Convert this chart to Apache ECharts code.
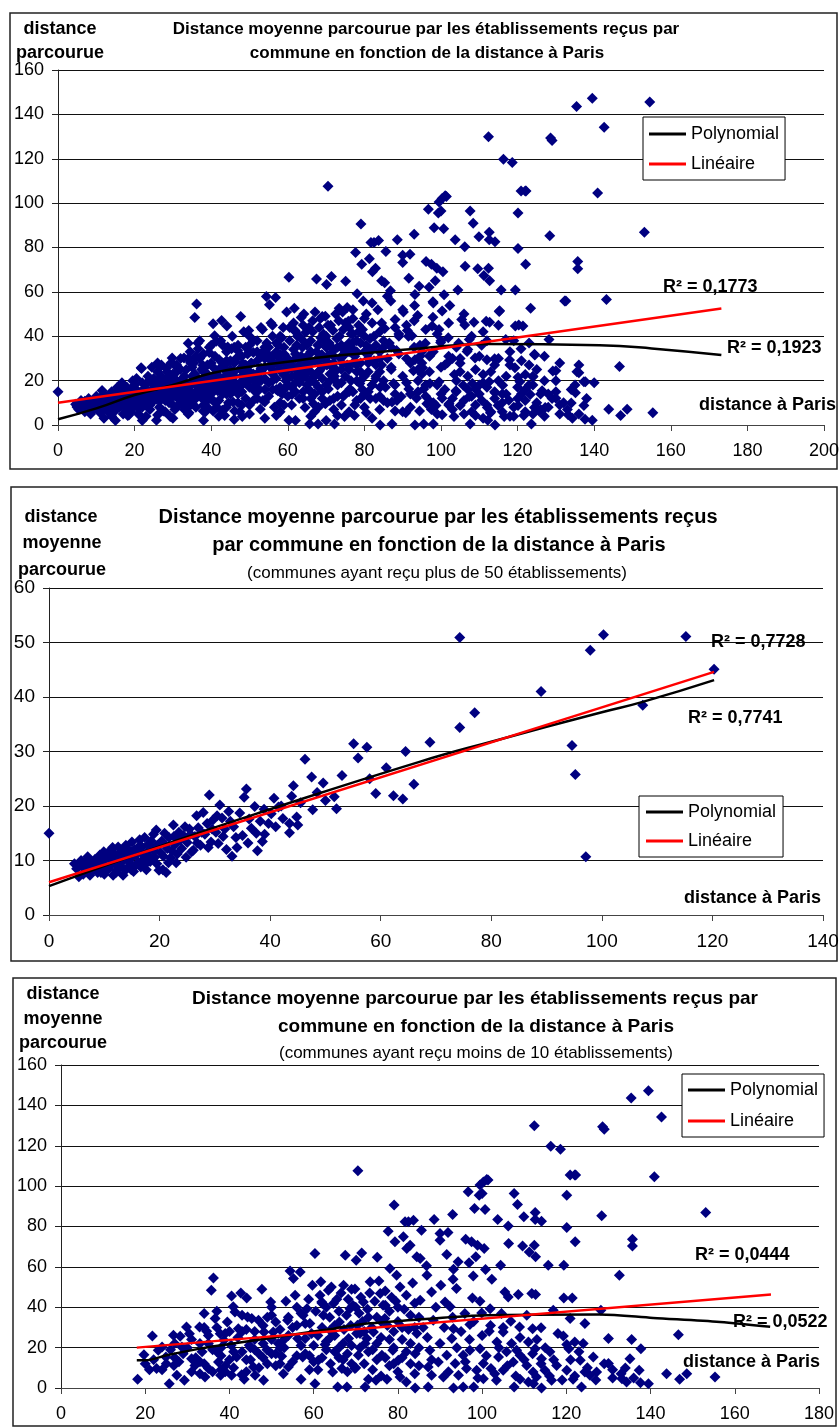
<!DOCTYPE html>
<html>
<head>
<meta charset="utf-8">
<script src="https://cdn.jsdelivr.net/npm/echarts@6/dist/echarts.min.js"></script>
<style>
    html, body { margin: 0; padding: 0; background: #fff; }
    #chartDiv { width: 839px; height: 1428px; }
</style>
</head>
<body>
<div id="chartDiv"></div>
<script>
// 初始化图表
var myChart = echarts.init(document.getElementById('chartDiv'));

// ---- données : [distance à Paris, distance moyenne parcourue] ----

// communes ayant reçu plus de 50 établissements (graphique 2)
var ptsPlus50 = [
    [0,15],[4.6,9.4],[5.4,7],[5,8.5],[5.8,10],[6,9],[6.2,7.5],[6.5,8],[6.8,9.8],[7,10.7],[7.2,8.6],[7.4,7.3],
    [7.8,9.5],[8,8.4],[8.3,10.2],[8.5,9.6],[8.8,7.8],[9,9.3],[9.2,11],[9.4,7.8],[9.5,8.2],[9.8,10],[9.9,11.6],
    [10,7.5],[10.2,9],[10.4,8.4],[10.5,11.3],[10.7,10.8],[10.8,8.5],[11,10.2],[11.2,9.2],[11.3,12],[11.5,12.4],
    [11.6,7.3],[11.8,9.5],[12,11],[12.1,7.8],[12.3,8.2],[12.5,12.5],[12.6,9.6],[12.8,10],[12.9,11.4],[13,9],
    [13.2,11.8],[13.4,7.3],[13.5,10.1],[13.6,10.5],[13.8,8.2],[13.9,12.8],[14.1,8.6],[14.2,12.2],[14.3,11.2],
    [14.5,10.4],[14.6,9.6],[14.8,11.6],[14.9,8.3],[15,13.4],[15.2,10.8],[15.3,8],[15.5,12],[15.7,11],[15.8,9.2],
    [16,11.4],[16.2,9.7],[16.4,13.8],[16.5,12.8],[16.6,8.8],[16.8,12.5],[17,10.2],[17.1,11],[17.3,14.2],
    [17.5,9.4],[17.6,8.3],[17.8,11.6],[18,13],[18.1,10.8],[18.3,9.8],[18.5,13.6],[18.6,12.2],[18.9,14.8],
    [19,11.8],[19.1,10.6],[19.4,15.6],[19.5,9.4],[19.6,12.8],[19.9,8.2],[20,13],[20.2,11.4],[20.4,13.6],
    [20.6,8.3],[20.7,10.8],[20.9,15],[21.1,12.8],[21.2,7.8],[21.4,12.2],[21.6,9.6],[21.7,14.2],[22,10.5],
    [22.2,11.8],[22.5,16.5],[22.6,14.4],[22.8,13],[23,9.6],[23.2,11.2],[23.5,15.2],[23.8,13.8],[24,12.2],
    [24.3,14.6],[24.6,16.2],[24.8,10.6],[25,13.3],[25.4,15.8],[25.6,14.8],[25.8,11.6],[26.1,11.9],[26.4,14.4],
    [26.7,18.2],[26.8,13.2],[27,16],[27.4,12.8],[27.6,15.2],[27.9,18.8],[28.2,14.8],[28.6,16.8],[28.8,12.4],
    [29,22],[29.3,13.4],[29.5,15.8],[29.7,17.5],[30.2,15.2],[30.4,18.2],[30.6,13.1],[30.9,20.2],[31.3,17.8],
    [31.5,14.4],[31.8,15.8],[32.1,12],[32.5,19],[32.8,17.2],[33.1,10.8],[33.4,16.2],[33.8,14.2],[34,12.4],
    [34.5,18.7],[35,14.6],[35.3,21.6],[35.7,23.1],[36,13.2],[36.2,17.6],[36.6,15.9],[37.2,19.9],[37.5,15],
    [37.7,11.8],[38.2,17.2],[38.6,13.5],[38.9,19.4],[39,14.8],[39.7,16.8],[40.2,18.6],[40.7,21.4],[41,16.2],
    [41.5,19.8],[42,20],[42.3,17.7],[43.5,16.8],[43.5,15.1],[43.9,21.8],[44.2,23.7],[44.8,18],[45,16.5],
    [45.5,20.6],[46.3,28.6],[47.5,25.3],[47.7,19.3],[48.5,22.5],[49.6,24.2],[50,21],[51.6,21.7],[52,19.5],
    [53,25.6],[55.1,31.4],[55.9,28.8],[57.5,30.8],[58,25],[59.1,22.3],[61,27],[62.3,21.9],[64,21.3],[64.5,30],
    [66,24],[68.9,31.7],[74.3,34.4],[74.3,50.9],[77,37.1],[89,41],[94.6,31.1],[95.2,25.8],[97.1,10.7],
    [97.9,48.6],[100.3,51.4],[107.4,38.5],[115.2,51.1],[120.3,45.1]
];

// communes ayant reçu moins de 10 établissements (graphique 3)
var ptsMoins10 = [
    [18.2,4.3],[19.7,16.5],[21.7,25.8],[21,9],[22.7,9.6],[23.1,18.7],[24,20.3],[24.9,15.4],[25.7,2.1],[26.7,26.1],
    [26.8,11.2],[27.5,6.3],[28.3,25.6],[28.7,20.3],[29.3,3.8],[29.8,30.2],[30.5,26.9],[31,14.5],[31.8,11.2],
    [32.9,30.2],[33.5,17.9],[34.2,5.5],[34,36.9],[34.6,28.1],[35,9.6],[35.7,48.4],[36.2,54.5],[36.6,34.4],
    [37,38],[37.4,12.9],[37.8,26.9],[37.9,6.3],[38.7,23.6],[39.5,32.7],[40.4,21.2],[40.5,45.6],[40.9,40.2],
    [41.3,37.7],[40.5,6.3],[41.7,15.4],[42.1,29.4],[42.7,47.1],[42.9,6.6],[43.5,4.3],[44.1,44.6],[44.3,35.2],
    [44.7,21.2],[45.3,34.4],[45.7,10.4],[46.1,6.3],[46.9,33.6],[47.7,48.9],[48.1,3.8],[48.2,27.8],[48.9,19],
    [49.8,42.6],[50,36],[50.4,27.8],[51,32.7],[51.6,22],[52.4,15.7],[52.8,7.1],[53.4,43],[53.8,33.6],[54,10.4],
    [54.4,57.9],[55.2,54.2],[55.6,46],[56.2,24.5],[56.8,57.5],[57,4.3],[57.4,15.4],[58,24.5],[58.4,39.3],
    [59.1,31.9],[59.7,50.9],[60.3,66.6],[60.3,2.1],[61.1,13.7],[61.7,52.6],[61.9,42.6],[62.3,36],[62.7,21.5],
    [63.5,48.4],[63.9,28.6],[64.5,7.9],[64.7,41.8],[65.7,0.5],[66.1,32.7],[66.7,9.6],[67.1,50.9],[67.5,65.8],
    [67.9,0.5],[68.3,24.5],[68.6,39.3],[69,48.9],[69.8,9.6],[70.1,63.3],[70.4,31.1],[70.6,16.2],[71.4,66.9],
    [71.8,42.6],[72.2,0.5],[72.6,24.5],[73,4.3],[73.4,52.6],[74.2,27.8],[74.8,3.8],[75.1,64.8],[75.8,46.8],
    [76.2,16.2],[76.9,34.4],[77.4,4.3],[77.7,77.7],[78.1,59.2],[78.8,18.7],[79.1,90.6],[79.3,72.4],[79.7,55.9],
    [80.1,13.7],[80.5,5.5],[81.3,74.9],[81.7,82.3],[82.1,69.1],[82.5,82.3],[82.9,70.7],[83.7,83.1],[84.1,0],
    [84.1,17],[84.5,65],
    [56,40],[57.5,36],[58.8,44],[59.5,27],[60.5,38],[61.5,46],[62,30],[63,40],[63.8,35],[64.2,50],[65,26],
    [65.5,44],[66,38],[66.5,47],[67.2,29],[67.8,36],[68.2,44],[68.8,31],[69.3,41],[69.8,49],[70.2,27],
    [70.8,37],[71.2,45],[71.6,33],[72.2,22],[72.8,39],[73.3,47],[73.8,30],[74.5,43],[75,35],[75.5,53],[76,25],
    [76.5,41],[77,48],[77.5,31],[78,38],[78.5,45],[79,28],[79.5,43],[80,33],[80.5,50],[81,24],[81.5,39],
    [82,46],[82.5,29],[83,36],[83.5,52],[84,42],[84.5,27],[85,35],
    [42,25],[43,18],[44,29],[45,14],[46,24],[47,17],[48,31],[49,12],[50,24],[51,17],[52,29],[53,20],[54,26],
    [55,13],[56,31],[57,21],[58,17],[59,9],[60,21],[61,26],[62,15],[63,23],[64,12],[65,18],[66,20],[67,14],
    [68,17],[69,21],[70,10],[71,20],[72,12],[73,18],[74,9],[75,22],[76,6],[77,15],[78,11],[79,20],[80,8],
    [81,15],[82,3],[83,12],[84,7],[85,20],
    [30,20],[31,24],[32,15],[33,22],[34,12],[35,26],[36,19],[37,30],[38,16],[39,27],[40,14],[28,13],[26,19],
    [24,9],[22,14],[20,12],[27,22],[36,8],[38,9],[41,10],[43,28],[46,19],[48,22],[50,17],[52,12],[44,8],
    [40,28],[34,30],[33,7],
    [38,20],[39,8],[41,18],[43,36],[45,20],[47,10],[49,35],[51,11],[53,24],[55,30],[57,37],[59,16],[61,9],
    [63,19],[65,31],[67,22],[69,12],[71,27],[73,35],[75,14],[77,41],[79,12],[81,30],[83,22],[85,11],[44,14],
    [46,28],[48,15],[50,40],[52,20],[54,35],[56,16],[58,32],[60,13],[62,42],[64,25],[66,15],[68,8],[70,40],
    [72,28],[74,19],[76,33],[78,24],[80,40],[82,18],[84,30],[25,12],[27,15],[29,17],[31,8],[33,13],[35,22],
    [37,18],[39,11],
    [100.3,102.1],[99.5,100.5],[101.4,103],[101.1,103.3],[96.7,97.2],[100,96.4],[99.3,95.5],[98.2,88.9],
    [100.7,88.4],[107.6,96.4],[108.4,90.9],[120.1,95.5],[122,105.5],[120.9,105.5],[140.9,104.6],[93,86],
    [88.6,83.5],[85.6,78.2],[109.9,84.8],[112.6,86.9],[112.6,83.5],[114.1,82.6],[103.7,83.5],[106.2,80.3],
    [120.1,79.5],[128.4,85.3],[153.1,86.9],[90,76.5],[91.9,77],[90,73.2],[96.1,73.7],[97.5,72.4],[98.9,70.7],
    [100.5,69.1],[106.3,71.6],[109.6,70.4],[112.4,70.7],[111.2,67.4],[112.7,65],[122.1,72.4],[135.7,73.7],
    [135.7,70.4],[91.6,66.1],[85.3,64.1],[94.3,62.5],[96.9,62.1],[98.5,65],[104.4,60.8],[115.7,60.8],
    [119.4,60.8],[86.8,60.5],[93.2,58.8],[100.8,58.7],[97.9,55.5],[86.9,55.9],[93.1,53.9],[102.3,53.9],
    [132.6,55.9],[90.2,50.9],[93.9,49.3],[88,47.6],[105.4,47.6],[111.8,46.8],[108.6,46.3],[112.7,46.3],
    [119.4,44.6],[121.4,44.6],[106.2,45.1],[97.7,44.6],[99.5,43],[91.2,42.6],[85.3,43.5],[92.4,40.2],
    [101.9,39.3],[116.9,38.5],[128.2,38.5],[95.9,36.9],[99.9,37.2],[104.6,36.9],[110.6,36],[120.9,34.4],
    [88.4,33.6],[106.8,33.1],[108.9,30.2],[124.4,31.9],[93.2,29.4],[97.1,31.4],[112,29.4],[114,29.9],
    [101.7,28.1],[105,27.8],[92.8,24.5],[119.3,25.8],[130,24.5],[135.5,24],[146.6,26.4],[103.5,22.8],
    [111,22.8],[120.1,21.5],[122,22.8],[124,22],[137.7,19.5],[87.6,18.7],[97.1,18.7],[99.5,19.5],[105.8,17.9],
    [108.2,18.7],[112.6,19.5],[116.1,17.9],[120.6,19.5],[91.6,16.2],[95.5,16.2],[103.9,15.4],[109,16.2],
    [114.1,14.5],[123.3,13.7],[126.4,15.4],[135.1,14.5],[89.6,12.9],[93.6,12.1],[100.3,12.1],[107.4,12.9],
    [110.6,11.2],[117.7,11.2],[130,12.1],[134,9.9],[87.2,10.4],[96.3,9.6],[98.7,8.8],[102.1,9.6],[105,8.8],
    [112.1,7.9],[114.9,8.8],[120.1,8.8],[124.4,7.9],[127.2,7.9],[137.3,8.8],[143.8,7.1],[148.6,7.1],[88,6.3],
    [90.8,5.5],[94.4,6.3],[100.3,4.6],[103.4,3.8],[109,4.3],[112.9,5.5],[116.5,3.8],[121.6,4.3],[125.6,6.3],
    [131,5],[133.2,4.6],[134.3,3],[137.6,2.6],[139.5,2.1],[146.9,4.3],[155.3,5.5],[87.2,0.5],[93.2,0],
    [95.5,0.5],[98,0.5],[107.6,0.5],[112.2,2.1],[114.1,0],[123.6,0.5],
    [86,30],[87,25],[88,14],[89,40],[90,22],[91,30],[92,8],[93,35],[94,20],[95,28],[96,13],[97,24],[98,33],
    [99,5],[100,26],[101,16],[102,31],[103,7],[104,20],[105,30],[106,11],[107,22],[108,6],[109,25],[110,14],
    [111,3],[112,17],[113,24],[114,12],[115,20],[116,6],[117,14],[118,27],[119,4],[121,14],[122,6],[123,18],
    [125,10],[127,4],[129,12],[131,9],[133,7],[136,5],
    [70.5,107.6],[112.4,129.9],[128.6,129.4],[129,128.2],[116.3,119.8],[118.6,118.3],[122.2,105.5],
    [135.4,143.6],[139.5,147.3],[142.6,134.2],[154.5,145.6]
];

// communes ayant reçu entre 10 et 50 établissements (seulement dans le graphique 1)
var ptsEntre = [
    [5,8],[6,11],[7,6],[8,12],[9,6.5],[10,13],[11,5.5],[12,14],[13,6],[14,15],[15,6.5],[16,16],[16.7,19],
    [17,5],[18,17],[19,6],[20,18],[8.5,5],[11.5,15.5],[14,4],[15.5,17],[18.5,4.5],[19.5,20],[21.8,25.5],
    [20.5,21],[21,5],[22,19],[23,4],[23.5,22],[24,7],[24.5,26],[25,18],[26,24],[26.5,8],[27,27],[27.5,20],
    [28,6],[28.5,24],[29,10],[29.5,28],[30,23],[30.5,7],[31,27],[31.5,12],[32,30],[32.5,21],[33,9],[33.5,25],
    [34,17],[34.5,33],[35,11],[35.5,28],[36,22],[36.5,37],[37,14],[37.5,25],[38,32],[38.5,6],[39,22],
    [39.5,35],[40,12],[40.5,26],[41,31],[41.5,8],[42,22],[42.5,38],[43,14],[43.5,27],[44,33],[44.5,10],
    [45,25],[45.5,40],[46,16],[46.5,30],[47,36],[47.5,6],[48,25],[48.5,42],[49,20],[49.5,32],[50,9],[50.5,28],
    [51,38],[51.5,15],[52,33],[52.5,24],[53,44],[53.5,11],[54,30],[54.5,37],[55,19],[55.5,26],[56,45],
    [56.5,8],[57,33],[57.5,27],[58,40],[58.5,14],[59,35],[59.5,20],[60,30],[60.5,44],[61,17],[61.5,34],
    [62,25],[62.5,40],[63,12],[63.5,31],[64,45],[64.5,22],[65,36],[65.5,16],[66,28],[66.5,42],[67,6],
    [67.5,33],[68,24],[68.5,48],[69,15],[69.5,38],[70,29],[70.5,45],[71,11],[71.5,35],[72,26],[72.5,50],
    [73,19],[73.5,40],[74,31],[74.5,13],[75,46],[75.5,27],[76,37],[76.5,20],[77,52],[77.5,9],[78,33],
    [78.5,42],[79,24],[79.5,16],[80,48],[80.5,36],[81,28],[81.5,12],[82,55],[82.5,40],[83,21],[84,33],
    [84.5,46],[85.5,17],[86,58],[86.5,37],[87,26],[88,44],[88.5,11],[89,32],[90,52],[91,19],[91.5,40],
    [92,28],[93,47],[94,15],[94.5,36],[95,23],[96,43],[97,31],[97.5,7],[98,55],[99,18],[100,38],[101,27],
    [102,46],[103,12],[104,35],[105,24],[106,50],[107,16],[108,40],[109,9],[110,31],[111,19],[112,38],
    [113,6],[114,27],[115,45],[116,14],[117,22],[118,33],[119,8],[120,17],[121,29],[122,11],[123,37],
    [124,18],[125,25],[126,7],[127,31],[128,14],[130,20],[132,10],[134,16],[136,27],[138,12],[140,19],
    [12,3],[15,2],[18,7.5],[22,2],[26,4.5],[30,3],[34,5],[38,2],[42,4],[46,2.5],[50,5],[54,3],[58,6],
    [62,2],[66,4],[70,2],[123.4,52.6],[115.3,51.5],[143.2,56.6],[132.3,55.9],[129.2,24.3],[136,23.6],
    [137.3,19.5],[124,21.8],[124.5,31.5],[117.9,29.3],
    [10,9],[11,11],[12,8],[13,12],[14,9.5],[15,11],[16,8],[17,13],[18,10],[19,14],[20,9],[21,15],[22,11],
    [23,16],[24,10],[25,21],[26,13],[27,17],[28,11],[29,19],[30,13],[31,18],[32,10],[33,19],[34,14],[35,20],
    [36,12],[37,18],[38,24],[39,13],[40,19],[41,23],[42,16],[43,21],[44,18],[45,29],[46,22],[47,14],[48,18],
    [49,27],[50,20],[51,23],[52,17],[53,31],[54,21],[55,35],[56,23],[57,16],[58,29],[59,24],[60,18],[61,22],
    [62,32],[63,27],[64,15],[65,24],[66,33],[67,19],[68,29],[69,26],[70,35],[71,23],[72,31],[73,13],[74,25],
    [75,32],[76,15],[77,28],[78,20],[79,37],[80,22],[81,32],[82,18],[83,27],[84,13],[85,38],
    [22,8],[24,14],[26,28],[28,17],[30,9],[32,25],[34,8],[36,31],[38,19],[40,36],[42,11],[44,24],[46,35],
    [48,9],[50,33],[52,38],[54,16],[56,20],[58,10],[60,25],[62,19],[64,38],[66,12],[68,36],[70,18],[72,7],
    [74,36],[76,44],[78,27],[80,14],[82,34],[84,24],
    [86,10],[88,18],[90,6],[92,14],[94,25],[96,18],[98,10],[100,14],[102,9],[104,15],[106,5],[108,13],
    [110,18],[112,9],[114,15],[116,10],[118,4],[120,12],[122,16],[124,5],[126,14],[128,8],[130,15],[87,35],
    [91,45],[95,33],[99,41],[103,30],[107,34],[111,42],[115,30],[119,38],[123,27],[127,20],[131,28],[135,18]
];

// ensemble des communes (graphique 1)
var ptsTous = ptsPlus50.concat(ptsEntre, ptsMoins10);

// courbes de tendance
var polyTous = [[0,2.6],[10,7.5],[20,13.5],[30,18],[40,23.3],[50,26.3],[60,28.5],[70,30.8],[80,32.3],
    [94.4,34.5],[111.8,36.5],[141.4,35.9],[155,34.5],[173.2,31.5]];
var linTous = [[0,10],[173.2,52.5]];
var polyPlus50 = [[0,5.3],[20,12.6],[40,19.4],[67,28.1],[80,31.8],[100,37.2],[107.4,39.1],[120.3,43.1]];
var linPlus50 = [[0,6],[120.3,44.6]];
var polyMoins10 = [[18,13.7],[20,13.7],[25.1,16.2],[33,19.5],[40.9,22],[48.9,24.5],[56.8,27],[64.7,29.4],
    [72.6,31.9],[85.3,34],[101.1,36],[128,36.4],[140.6,34.7],[156.5,32.7],[168.4,30.3]];
var linMoins10 = [[18,20],[168.6,46.3]];

// textes
var r2Labels = ['R² = 0,1773', 'R² = 0,1923', 'R² = 0,7728', 'R² = 0,7741', 'R² = 0,0444', 'R² = 0,0522'];
var legendNames = ['Polynomial', 'Linéaire'];

var FONT = 'Liberation Sans, Arial, sans-serif';

// texte libre
function txt(x, y, text, size, bold, align) {
    return {
        type: 'text',
        x: x,
        y: y,
        z: 100,
        style: {
            text: text,
            fontSize: size,
            fontWeight: bold ? 'bold' : 'normal',
            fontFamily: FONT,
            fill: '#000',
            align: align || 'center',
            verticalAlign: 'middle'
        }
    };
}
function box(x, y, w, h) {
    return {
        type: 'rect',
        shape: {x: x, y: y, width: w, height: h},
        z: 0,
        style: {fill: 'none', stroke: '#222', lineWidth: 1.5}
    };
}

// axes
function xAxisOpt(idx, max, size) {
    return {
        gridIndex: idx, type: 'value', min: 0, max: max, interval: 20,
        axisLine: {show: true, lineStyle: {color: '#444', width: 1}},
        axisTick: {show: true, length: 6, lineStyle: {color: '#444'}},
        axisLabel: {fontSize: size, color: '#000', fontFamily: FONT, margin: 17},
        splitLine: {show: false}
    };
}
function yAxisOpt(idx, max, interval, size) {
    return {
        gridIndex: idx, type: 'value', min: 0, max: max, interval: interval,
        axisLine: {show: true, lineStyle: {color: '#222', width: 1}},
        axisTick: {show: true, length: 6, lineStyle: {color: '#222'}},
        axisLabel: {fontSize: size, color: '#000', fontFamily: FONT, margin: 14},
        splitLine: {show: true, lineStyle: {color: '#111', width: 1}}
    };
}

function scatterSeries(idx, data) {
    return {
        type: 'scatter', name: 'communes', xAxisIndex: idx, yAxisIndex: idx,
        data: data, symbol: 'diamond', symbolSize: 11,
        itemStyle: {color: '#000080', opacity: 1}, z: 2
    };
}
function trendSeries(idx, name, data, color, smooth) {
    return {
        type: 'line', name: name, xAxisIndex: idx, yAxisIndex: idx,
        data: data, smooth: smooth, showSymbol: false, symbol: 'none',
        lineStyle: {color: color, width: 2.5}, itemStyle: {color: color}, z: 3
    };
}
function legendOpt(left, top, padding, gap) {
    return {
        data: legendNames, orient: 'vertical', left: left, top: top,
        icon: 'rect', itemWidth: 37, itemHeight: 3, itemGap: gap,
        padding: padding, borderColor: '#000', borderWidth: 1, backgroundColor: '#fff',
        borderRadius: 0, selectedMode: false, z: 10,
        textStyle: {fontSize: 18, color: '#000', fontFamily: FONT}
    };
}

var option = {
    backgroundColor: '#fff',
    animation: false,
    grid: [
        {left: 58, top: 70, width: 766, height: 355, containLabel: false, outerBoundsMode: 'none'},
        {left: 49, top: 588, width: 774, height: 327, containLabel: false, outerBoundsMode: 'none'},
        {left: 61, top: 1065, width: 758, height: 323, containLabel: false, outerBoundsMode: 'none'}
    ],
    xAxis: [xAxisOpt(0, 200, 18), xAxisOpt(1, 140, 19), xAxisOpt(2, 180, 18)],
    yAxis: [yAxisOpt(0, 160, 20, 18), yAxisOpt(1, 60, 10, 19), yAxisOpt(2, 160, 20, 18)],
    legend: [
        legendOpt(643, 117, [8, 6, 7, 6], 12),
        legendOpt(639, 796, [7, 7, 7, 7], 11),
        legendOpt(682, 1074, [7, 6, 7, 6], 13)
    ],
    series: [
        scatterSeries(0, ptsTous),
        trendSeries(0, 'Polynomial', polyTous, '#000', true),
        trendSeries(0, 'Linéaire', linTous, '#ff0000', false),
        scatterSeries(1, ptsPlus50),
        trendSeries(1, 'Polynomial', polyPlus50, '#000', true),
        trendSeries(1, 'Linéaire', linPlus50, '#ff0000', false),
        scatterSeries(2, ptsMoins10),
        trendSeries(2, 'Polynomial', polyMoins10, '#000', 0.3),
        trendSeries(2, 'Linéaire', linMoins10, '#ff0000', false)
    ],
    graphic: [
        // cadres
        box(10, 13, 827, 456),
        box(11, 487, 826, 474),
        box(13, 978, 823, 448),

        // graphique 1
        txt(60, 29, 'distance', 18, true),
        txt(60, 53, 'parcourue', 18, true),
        txt(426, 29, 'Distance moyenne parcourue par les établissements reçus par', 17, true),
        txt(427, 53, 'commune en fonction de la distance à Paris', 17, true),
        txt(663, 287, r2Labels[0], 18, true, 'left'),
        txt(727, 348, r2Labels[1], 18, true, 'left'),
        txt(836, 405, 'distance à Paris', 18, true, 'right'),

        // graphique 2
        txt(61, 517, 'distance', 18, true),
        txt(62, 543, 'moyenne', 18, true),
        txt(62, 570, 'parcourue', 18, true),
        txt(438, 517, 'Distance moyenne parcourue par les établissements reçus', 20, true),
        txt(439, 545, 'par commune en fonction de la distance à Paris', 20, true),
        txt(437, 573, '(communes ayant reçu plus de 50 établissements)', 17, false),
        txt(711, 642, r2Labels[2], 18, true, 'left'),
        txt(688, 718, r2Labels[3], 18, true, 'left'),
        txt(821, 898, 'distance à Paris', 18, true, 'right'),

        // graphique 3
        txt(63, 994, 'distance', 18, true),
        txt(63, 1019, 'moyenne', 18, true),
        txt(63, 1043, 'parcourue', 18, true),
        txt(475, 999, 'Distance moyenne parcourue par les établissements reçus par', 19, true),
        txt(476, 1027, 'commune en fonction de la distance à Paris', 19, true),
        txt(476, 1053, '(communes ayant reçu moins de 10 établissements)', 17, false),
        txt(695, 1255, r2Labels[4], 18, true, 'left'),
        txt(733, 1322, r2Labels[5], 18, true, 'left'),
        txt(820, 1362, 'distance à Paris', 18, true, 'right')
    ]
};
myChart.setOption(option);
</script>
</body>
</html>
